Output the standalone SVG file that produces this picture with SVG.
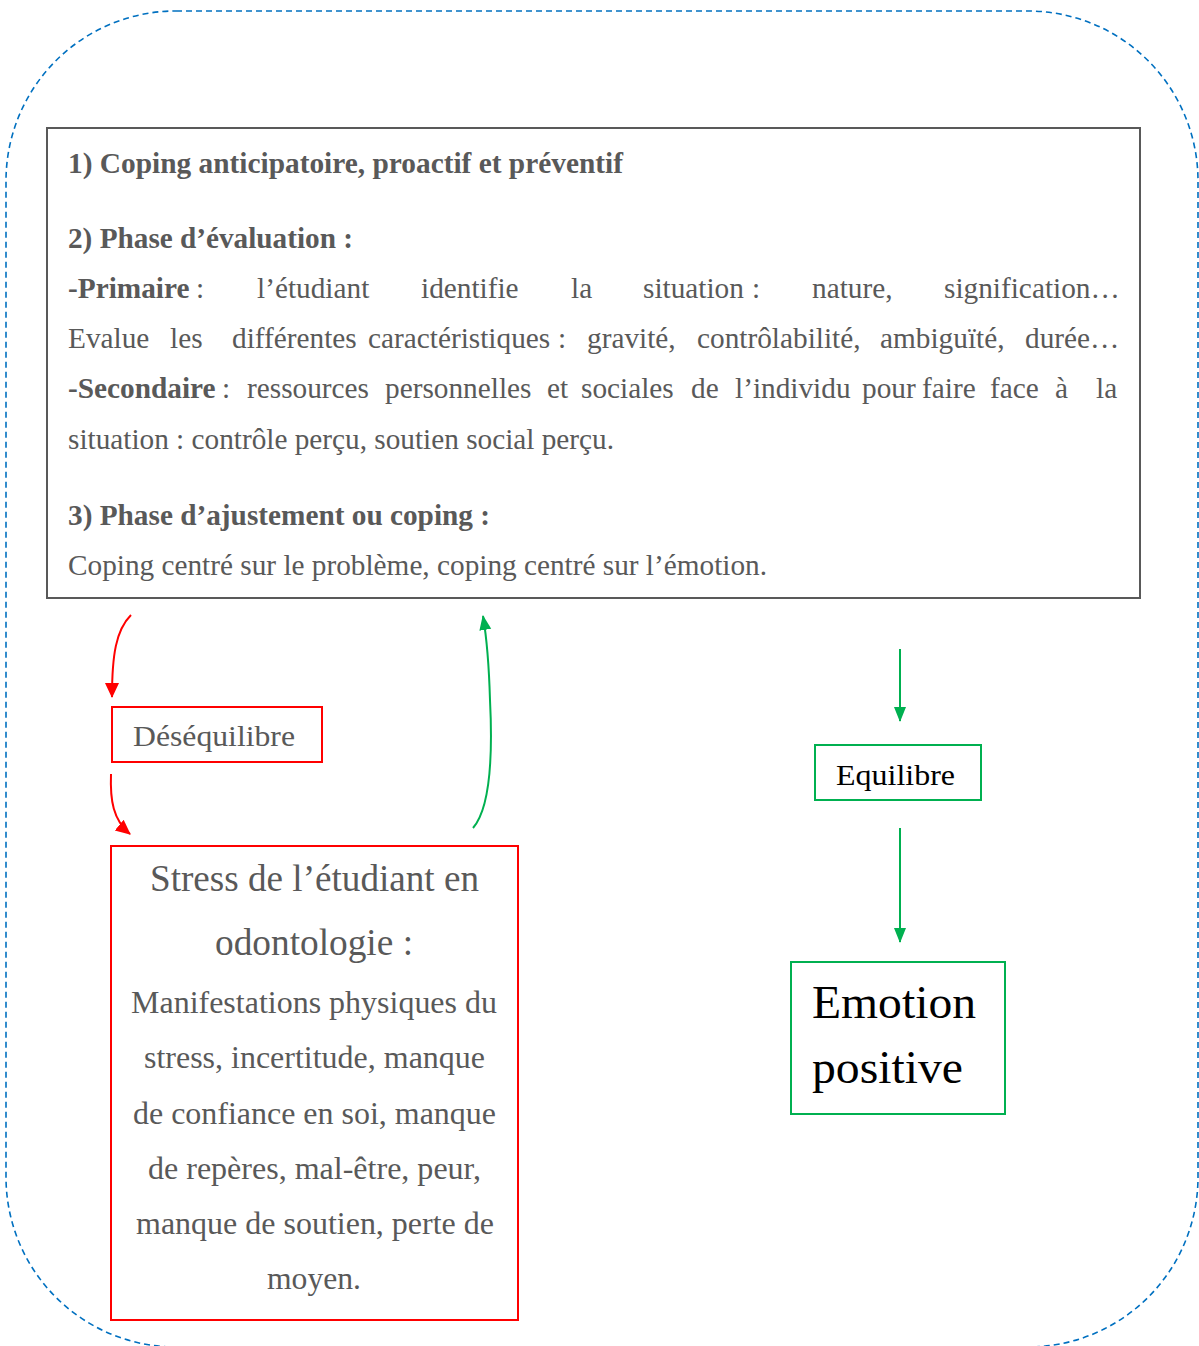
<svg xmlns="http://www.w3.org/2000/svg" width="1199" height="1346" viewBox="0 0 1199 1346">
<style>
.t{font-family:"Liberation Serif","Times New Roman",serif;fill:#595959;font-size:29.3px}
.b{font-weight:bold}
.k{fill:#000}
.box{fill:#fff;stroke-width:2}
.red{stroke:#FF0000}
.grn{stroke:#00B050}
.c{fill:none;stroke-width:2}
</style>
<defs>
<marker id="ar" markerUnits="userSpaceOnUse" markerWidth="16" markerHeight="16" viewBox="0 0 16 16" refX="14" refY="8" orient="auto"><path d="M0,1 L15,8 L0,15 Z" fill="#FF0000"/></marker>
<marker id="ag" markerUnits="userSpaceOnUse" markerWidth="16" markerHeight="16" viewBox="0 0 16 16" refX="14" refY="8" orient="auto"><path d="M0,2 L15,8 L0,14 Z" fill="#00B050"/></marker>
</defs>
<rect x="6" y="11" width="1192" height="1336" rx="170" ry="170" fill="none" stroke="#0070C0" stroke-width="1.6" stroke-dasharray="6,4"/>
<g id="main">
<rect x="47" y="128" width="1093" height="470" fill="#fff" stroke="#595959" stroke-width="2"/>
<text class="t b" x="68" y="173" textLength="555" lengthAdjust="spacingAndGlyphs">1) Coping anticipatoire, proactif et préventif</text>
<text class="t b" x="68" y="248" textLength="285" lengthAdjust="spacingAndGlyphs">2) Phase d’évaluation :</text>
<text class="t" y="298"><tspan class="b" x="68">-Primaire</tspan><tspan x="196">:</tspan><tspan x="257">l’étudiant</tspan><tspan x="421">identifie</tspan><tspan x="571">la</tspan><tspan x="643">situation</tspan><tspan x="752">:</tspan><tspan x="812">nature,</tspan><tspan x="944">signification…</tspan></text>
<text class="t" y="348"><tspan x="68">Evalue</tspan><tspan x="170">les</tspan><tspan x="232">différentes</tspan><tspan x="368">caractéristiques</tspan><tspan x="558">:</tspan><tspan x="587">gravité,</tspan><tspan x="697">contrôlabilité,</tspan><tspan x="880">ambiguïté,</tspan><tspan x="1025">durée…</tspan></text>
<text class="t" y="398"><tspan class="b" x="68">-Secondaire</tspan><tspan x="222">:</tspan><tspan x="247">ressources</tspan><tspan x="385">personnelles</tspan><tspan x="547">et</tspan><tspan x="581">sociales</tspan><tspan x="691">de</tspan><tspan x="735">l’individu</tspan><tspan x="862">pour</tspan><tspan x="922">faire</tspan><tspan x="990">face</tspan><tspan x="1055">à</tspan><tspan x="1096">la</tspan></text>
<text class="t" x="68" y="449" textLength="546" lengthAdjust="spacingAndGlyphs">situation : contrôle perçu, soutien social perçu.</text>
<text class="t b" x="68" y="525" textLength="422" lengthAdjust="spacingAndGlyphs">3) Phase d’ajustement ou coping :</text>
<text class="t" x="68" y="575" textLength="699" lengthAdjust="spacingAndGlyphs">Coping centré sur le problème, coping centré sur l’émotion.</text>
</g>
<g id="desequilibre">
<rect class="box red" x="112" y="707" width="210" height="55"/>
<text class="t" x="133" y="746" style="font-size:30px" textLength="162" lengthAdjust="spacingAndGlyphs">Déséquilibre</text>
</g>
<g id="stress">
<rect class="box red" x="111" y="846" width="407" height="474"/>
<text class="t" style="font-size:37px" x="150" y="891" textLength="329" lengthAdjust="spacingAndGlyphs">Stress de l’étudiant en</text>
<text class="t" style="font-size:37px" x="215" y="955" textLength="198" lengthAdjust="spacingAndGlyphs">odontologie :</text>
<text class="t" style="font-size:31px" x="131" y="1013" textLength="366" lengthAdjust="spacingAndGlyphs">Manifestations physiques du</text>
<text class="t" style="font-size:31px" x="144" y="1068" textLength="341" lengthAdjust="spacingAndGlyphs">stress, incertitude, manque</text>
<text class="t" style="font-size:31px" x="133" y="1124" textLength="363" lengthAdjust="spacingAndGlyphs">de confiance en soi, manque</text>
<text class="t" style="font-size:31px" x="148" y="1179" textLength="333" lengthAdjust="spacingAndGlyphs">de repères, mal-être, peur,</text>
<text class="t" style="font-size:31px" x="136" y="1234" textLength="358" lengthAdjust="spacingAndGlyphs">manque de soutien, perte de</text>
<text class="t" style="font-size:31px" x="267" y="1289" textLength="94" lengthAdjust="spacingAndGlyphs">moyen.</text>
</g>
<g id="equilibre">
<rect class="box grn" x="815" y="745" width="166" height="55"/>
<text class="t k" x="836" y="785" style="font-size:29px" textLength="119" lengthAdjust="spacingAndGlyphs">Equilibre</text>
</g>
<g id="emotion">
<rect class="box grn" x="791" y="962" width="214" height="152"/>
<text class="t k" style="font-size:47px" x="812" y="1018" textLength="164" lengthAdjust="spacingAndGlyphs">Emotion</text>
<text class="t k" style="font-size:47px" x="812" y="1083" textLength="151" lengthAdjust="spacingAndGlyphs">positive</text>
</g>
<g id="connectors">
<path class="c" stroke="#FF0000" d="M131,615 C116,630 112,655 112,697" marker-end="url(#ar)"/>
<path class="c" stroke="#FF0000" d="M111,774 C110,800 113,820 130,834" marker-end="url(#ar)"/>
<path class="c" stroke="#00B050" d="M473,828 C493,805 492,740 490,700 C489,665 487,640 483,616" marker-end="url(#ag)"/>
<path class="c" stroke="#00B050" d="M900,649 L900,721" marker-end="url(#ag)"/>
<path class="c" stroke="#00B050" d="M900,828 L900,942" marker-end="url(#ag)"/>
</g>
</svg>
